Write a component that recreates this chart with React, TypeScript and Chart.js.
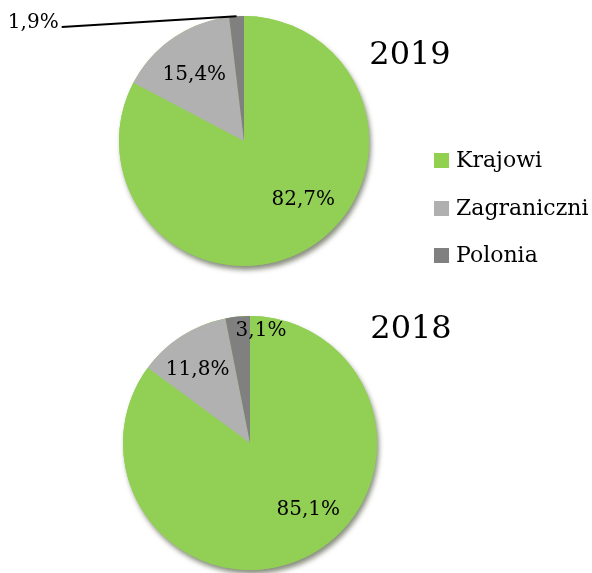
import React, { useEffect, useRef } from "react";
import { Chart, registerables } from "chart.js";

Chart.register(...registerables);

const categories = ["Krajowi", "Zagraniczni", "Polonia"];
const values2019 = [82.7, 15.4, 1.9];
const values2018 = [85.1, 11.8, 3.1];
const years = ["2019", "2018"];
const sliceColors = ["#92CF55", "#B1B1B1", "#808080"];
const legendColors = ["#92D050", "#B0B0B0", "#808080"];

// label placement (polar, relative to pie centre / radius)
const labelPlacement2019 = [
  { angle: 45, frac: 0.67, outside: false },
  { angle: 233, frac: 0.66, outside: false },
  { angle: 212, frac: 1.72, outside: true },
];
const labelPlacement2018 = [
  { angle: 49, frac: 0.7, outside: false },
  { angle: 234.5, frac: 0.71, outside: false },
  { angle: 275.6, frac: 0.89, outside: false },
];

const FONT = "'DejaVu Serif', 'Liberation Serif', serif";
const W = 592;
const H = 573;

const fmt = (v: number) => v.toFixed(1).replace(".", ",") + "%";

function makePlugin(placement: { angle: number; frac: number; outside: boolean }[]) {
  return {
    id: "pieDecor",
    beforeDatasetsDraw(chart: any) {
      const arc = chart.getDatasetMeta(0).data[0];
      if (!arc) return;
      const { x, y, outerRadius } = arc.getProps(["x", "y", "outerRadius"], true);
      const ctx = chart.ctx;
      ctx.save();
      ctx.shadowColor = "rgba(40,50,20,0.55)";
      ctx.shadowBlur = 5;
      ctx.shadowOffsetX = 2;
      ctx.shadowOffsetY = 4;
      ctx.fillStyle = sliceColors[0];
      ctx.beginPath();
      ctx.arc(x, y, outerRadius, 0, Math.PI * 2);
      ctx.fill();
      ctx.restore();
    },
    afterDatasetsDraw(chart: any) {
      const meta = chart.getDatasetMeta(0);
      const ds = chart.data.datasets[0].data as number[];
      const ctx = chart.ctx;
      ctx.save();
      ctx.font = `20px ${FONT}`;
      ctx.fillStyle = "#000";
      ctx.textBaseline = "middle";
      meta.data.forEach((el: any, i: number) => {
        const { x, y, outerRadius, startAngle, endAngle } = el.getProps(
          ["x", "y", "outerRadius", "startAngle", "endAngle"],
          true
        );
        const p = placement[i];
        const a = (p.angle * Math.PI) / 180;
        const lx = x + Math.cos(a) * outerRadius * p.frac;
        const ly = y + Math.sin(a) * outerRadius * p.frac;
        const text = fmt(ds[i]);
        if (p.outside) {
          const mid = (startAngle + endAngle) / 2;
          const ex = x + Math.cos(mid) * outerRadius;
          const ey = y + Math.sin(mid) * outerRadius;
          ctx.strokeStyle = "#000";
          ctx.lineWidth = 2;
          ctx.beginPath();
          ctx.moveTo(lx, ly);
          ctx.lineTo(ex, ey);
          ctx.stroke();
          ctx.textAlign = "right";
          ctx.fillText(text, lx - 3, ly - 4);
        } else {
          ctx.textAlign = "center";
          ctx.fillText(text, lx, ly);
        }
      });
      ctx.restore();
    },
  };
}

function PieCanvas(props: {
  values: number[];
  padding: { left: number; right: number; top: number; bottom: number };
  placement: { angle: number; frac: number; outside: boolean }[];
}) {
  const ref = useRef<HTMLCanvasElement | null>(null);
  useEffect(() => {
    if (!ref.current) return;
    const chart = new Chart(ref.current, {
      type: "pie",
      data: {
        labels: categories,
        datasets: [
          {
            data: props.values,
            backgroundColor: sliceColors,
            borderWidth: 0,
            hoverOffset: 0,
          },
        ],
      },
      options: {
        responsive: false,
        animation: false,
        layout: { padding: props.padding },
        plugins: {
          legend: { display: false },
          tooltip: { enabled: false },
        },
        events: [],
      },
      plugins: [makePlugin(props.placement)],
    } as any);
    return () => chart.destroy();
  }, []);
  return (
    <canvas
      ref={ref}
      width={W}
      height={H}
      style={{ position: "absolute", left: 0, top: 0, width: W, height: H }}
    />
  );
}

export default function App() {
  const titleStyle = (cx: number, cy: number): React.CSSProperties => ({
    position: "absolute",
    left: cx,
    top: cy,
    transform: "translate(-50%, -50%)",
    fontFamily: FONT,
    fontSize: 32,
    lineHeight: "1",
    color: "#000",
    whiteSpace: "nowrap",
  });
  const legendY = [160, 208, 255];
  return (
    <div
      style={{
        position: "absolute",
        left: 0,
        top: 0,
        width: W,
        height: H,
        background: "#fff",
        overflow: "hidden",
      }}
    >
      <PieCanvas
        values={values2019}
        padding={{ left: 119, right: 223, top: 16, bottom: 307 }}
        placement={labelPlacement2019}
      />
      <PieCanvas
        values={values2018}
        padding={{ left: 122, right: 214, top: 316, bottom: 3 }}
        placement={labelPlacement2018}
      />
      <div style={titleStyle(410, 53)}>{years[0]}</div>
      <div style={titleStyle(411, 327)}>{years[1]}</div>
      {categories.map((c, i) => (
        <div
          key={c}
          style={{
            position: "absolute",
            left: 434,
            top: legendY[i],
            transform: "translateY(-50%)",
            display: "flex",
            alignItems: "center",
            fontFamily: FONT,
            fontSize: 22,
            lineHeight: "1",
            color: "#000",
            whiteSpace: "nowrap",
          }}
        >
          <span
            style={{
              display: "inline-block",
              width: 15,
              height: 15,
              background: legendColors[i],
              marginRight: 7,
            }}
          />
          <span>{c}</span>
        </div>
      ))}
    </div>
  );
}
